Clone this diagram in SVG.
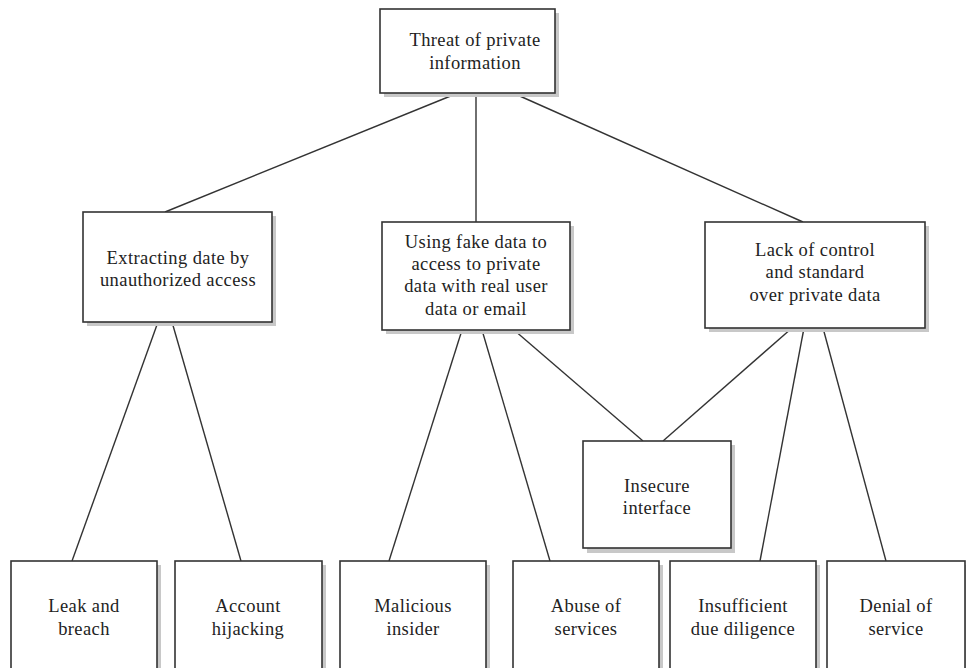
<svg xmlns="http://www.w3.org/2000/svg" width="966" height="668" viewBox="0 0 966 668">
<style>
.sh{fill:#c8c8c8;stroke:none}
.bx{fill:#fff;stroke:#333;stroke-width:1.6}
.t{font-family:"Liberation Serif","Times New Roman",serif;font-size:18.5px;letter-spacing:0.4px;fill:#222;text-anchor:middle}
.c line{stroke:#333;stroke-width:1.4}
</style>
<rect width="966" height="668" fill="#fff"/>
<g class="c" id="connectors">
<line x1="458" y1="93" x2="165" y2="212"/>
<line x1="476" y1="93" x2="476" y2="222"/>
<line x1="513" y1="93" x2="803" y2="222"/>
<line x1="158" y1="322" x2="72" y2="561"/>
<line x1="172" y1="322" x2="241" y2="561"/>
<line x1="462" y1="330" x2="389" y2="561"/>
<line x1="482" y1="330" x2="550" y2="561"/>
<line x1="514" y1="330" x2="643" y2="441"/>
<line x1="792" y1="328" x2="663" y2="441"/>
<line x1="804" y1="328" x2="760" y2="561"/>
<line x1="823" y1="328" x2="886" y2="561"/>
</g>
<g id="n-top">
<rect class="sh" x="384" y="13" width="175" height="84"/>
<rect class="bx" x="380" y="9" width="175" height="84"/>
<text class="t" x="475" y="46">Threat of private</text>
<text class="t" x="475" y="69">information</text>
</g>
<g id="n-extract">
<rect class="sh" x="87" y="216" width="189" height="110"/>
<rect class="bx" x="83" y="212" width="189" height="110"/>
<text class="t" x="178" y="264">Extracting date by</text>
<text class="t" x="178" y="286">unauthorized access</text>
</g>
<g id="n-fake">
<rect class="sh" x="386" y="226" width="188" height="108"/>
<rect class="bx" x="382" y="222" width="188" height="108"/>
<text class="t" x="476" y="248">Using fake data to</text>
<text class="t" x="476" y="270">access to private</text>
<text class="t" x="476" y="292">data with real user</text>
<text class="t" x="476" y="315">data or email</text>
</g>
<g id="n-lack">
<rect class="sh" x="709" y="226" width="220" height="106"/>
<rect class="bx" x="705" y="222" width="220" height="106"/>
<text class="t" x="815" y="256">Lack of control</text>
<text class="t" x="815" y="278">and standard</text>
<text class="t" x="815" y="301">over private data</text>
</g>
<g id="n-insecure">
<rect class="sh" x="587" y="445" width="148" height="108"/>
<rect class="bx" x="583" y="441" width="148" height="107"/>
<text class="t" x="657" y="492">Insecure</text>
<text class="t" x="657" y="514">interface</text>
</g>
<g id="n-leak">
<rect class="sh" x="15" y="565" width="146" height="110"/>
<rect class="bx" x="11" y="561" width="146" height="110"/>
<text class="t" x="84" y="612">Leak and</text>
<text class="t" x="84" y="635">breach</text>
</g>
<g id="n-account">
<rect class="sh" x="179" y="565" width="147" height="110"/>
<rect class="bx" x="175" y="561" width="147" height="110"/>
<text class="t" x="248" y="612">Account</text>
<text class="t" x="248" y="635">hijacking</text>
</g>
<g id="n-malicious">
<rect class="sh" x="344" y="565" width="146" height="110"/>
<rect class="bx" x="340" y="561" width="146" height="110"/>
<text class="t" x="413" y="612">Malicious</text>
<text class="t" x="413" y="635">insider</text>
</g>
<g id="n-abuse">
<rect class="sh" x="517" y="565" width="146" height="110"/>
<rect class="bx" x="513" y="561" width="146" height="110"/>
<text class="t" x="586" y="612">Abuse of</text>
<text class="t" x="586" y="635">services</text>
</g>
<g id="n-insufficient">
<rect class="sh" x="674" y="565" width="146" height="110"/>
<rect class="bx" x="670" y="561" width="146" height="110"/>
<text class="t" x="743" y="612">Insufficient</text>
<text class="t" x="743" y="635">due diligence</text>
</g>
<g id="n-denial">
<rect class="sh" x="831" y="565" width="140" height="110"/>
<rect class="bx" x="827" y="561" width="138" height="110"/>
<text class="t" x="896" y="612">Denial of</text>
<text class="t" x="896" y="635">service</text>
</g>
</svg>
